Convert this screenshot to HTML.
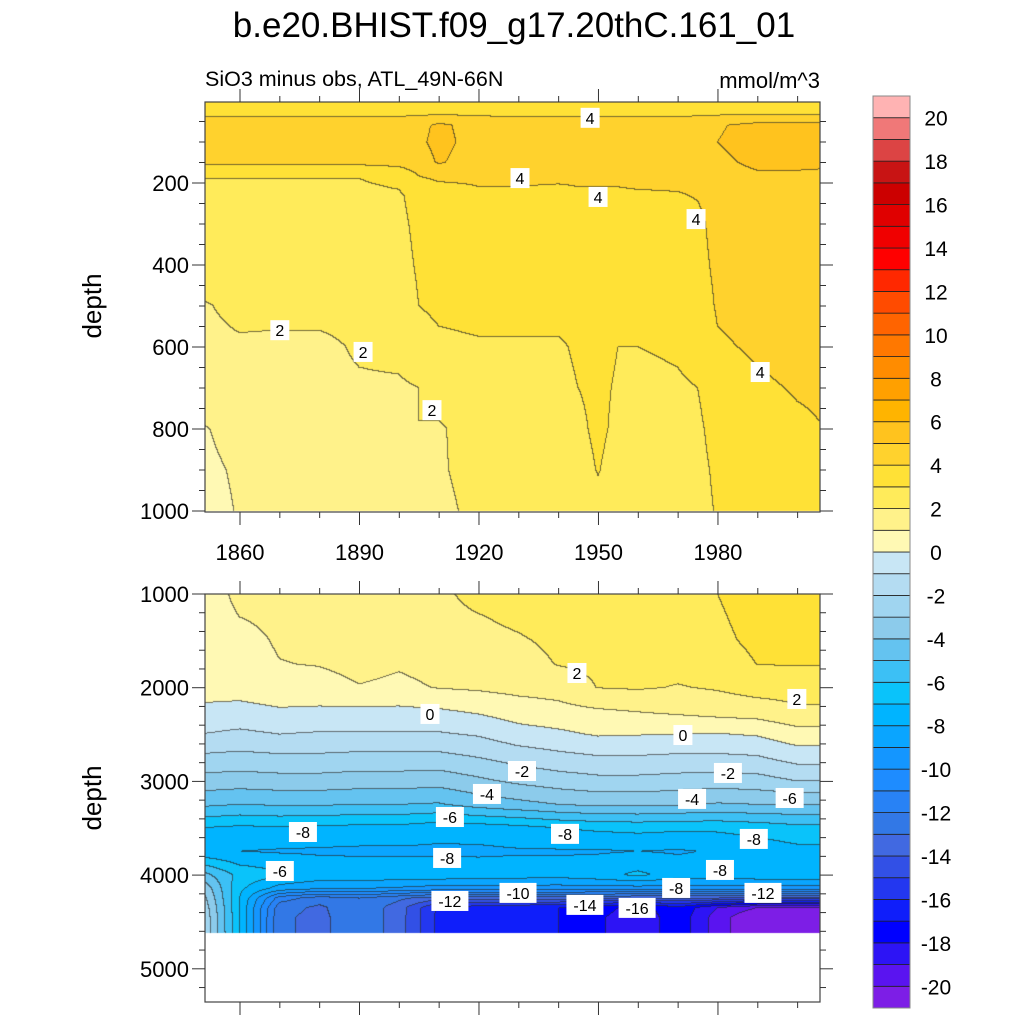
<!DOCTYPE html>
<html><head><meta charset="utf-8"><style>
html,body{margin:0;padding:0;background:#fff;}
#wrap{position:relative;width:1024px;height:1024px;overflow:hidden;font-family:"Liberation Sans",sans-serif;}
canvas{position:absolute;}
svg{position:absolute;left:0;top:0;}
</style></head><body>
<div id="wrap">
<canvas id="cTop" width="615" height="410" style="left:205px;top:102px"></canvas>
<canvas id="cBot" width="615" height="408" style="left:205px;top:594px"></canvas>
<svg id="ov" width="1024" height="1024"></svg>
</div>
<script>
// ---------- data ----------
const yearsTop = [1850,1860,1870,1880,1890,1900,1905,1910,1920,1930,1940,1945,1950,1955,1960,1970,1975,1980,1990,2000,2010];
const depthsTop = [0,30,60,100,150,190,230,300,400,500,600,700,800,900,1000];
const valuesTop = [
[3.6,3.6,3.6,3.6,3.6,3.6,3.6,3.6,3.6,3.6,3.6,3.6,3.6,3.6,3.6,3.6,3.6,3.6,3.6,3.6,3.6],
[3.8,3.8,3.8,3.8,3.8,3.8,3.8,3.8,3.8,3.8,3.8,3.8,3.8,3.8,3.8,3.8,3.8,3.8,3.8,3.8,3.8],
[4.4,4.4,4.4,4.4,4.4,4.5,4.7,5.2,4.6,4.5,4.5,4.5,4.5,4.5,4.5,4.5,4.6,4.9,5.3,5.4,5.3],
[4.4,4.4,4.4,4.4,4.4,4.5,4.8,5.3,4.6,4.5,4.5,4.5,4.5,4.5,4.5,4.5,4.7,5.0,5.4,5.5,5.4],
[4.2,4.2,4.2,4.2,4.2,4.3,4.5,5.1,4.5,4.4,4.4,4.4,4.4,4.4,4.4,4.4,4.6,4.8,5.2,5.2,5.1],
[3.0,3.0,3.0,3.0,3.0,3.2,3.9,4.1,4.1,4.1,4.1,4.1,4.1,4.1,4.2,4.2,4.3,4.6,4.8,4.8,4.8],
[2.8,2.8,2.8,2.8,2.8,2.9,3.3,3.6,3.9,3.9,3.8,3.9,3.9,3.9,3.9,3.95,4.05,4.4,4.6,4.6,4.6],
[2.7,2.7,2.7,2.7,2.7,2.8,3.2,3.5,3.6,3.6,3.6,3.6,3.6,3.6,3.6,3.7,3.8,4.3,4.5,4.5,4.5],
[2.5,2.6,2.6,2.6,2.6,2.7,3.1,3.4,3.5,3.5,3.5,3.5,3.5,3.5,3.5,3.6,3.7,4.2,4.4,4.4,4.4],
[1.9,2.2,2.3,2.3,2.3,2.5,3.0,3.2,3.3,3.3,3.3,3.3,3.4,3.3,3.3,3.4,3.5,4.1,4.3,4.3,4.3],
[1.8,1.9,1.8,1.8,2.1,2.2,2.5,2.8,2.9,2.9,2.9,3.1,3.3,3.0,3.0,3.1,3.3,3.9,4.1,4.2,4.2],
[1.6,1.7,1.8,1.8,1.9,1.9,2.0,2.4,2.7,2.8,2.8,3.0,3.2,2.9,2.8,2.9,3.0,3.6,3.9,4.05,4.1],
[0.9,1.3,1.7,1.7,1.7,1.8,2.0,1.9,2.4,2.5,2.6,2.8,3.2,2.8,2.6,2.7,2.8,3.4,3.7,3.9,4.05],
[0.8,1.1,1.6,1.6,1.6,1.7,1.8,1.9,2.3,2.4,2.5,2.6,3.05,2.6,2.5,2.5,2.7,3.2,3.6,3.8,4.0],
[0.7,1.05,1.5,1.5,1.5,1.6,1.7,1.8,2.2,2.3,2.4,2.5,2.7,2.5,2.4,2.4,2.6,3.1,3.5,3.7,3.9]
];
const yearsBot = [1850,1860,1870,1880,1890,1900,1910,1920,1930,1940,1950,1960,1970,1980,1990,2000,2010];
const depthsBot = [1000,1250,1500,1750,2000,2250,2500,2750,3000,3250,3500,3750,4000,4150,4250,4350,4450,4620];
// one profile per year column (values along depthsBot)
const col1850 = [0.5,0.5,0.5,0.5,0.4,-0.2,-1.0,-2.2,-3.4,-4.8,-7.0,-7.8,-4.5,-2.8,-2.2,-1.8,-1.6,-1.5];
const col1860 = [1.2,1.0,0.7,0.6,0.4,-0.3,-1.2,-2.3,-3.5,-5.0,-7.2,-8.0,-6.3,-6.8,-7.0,-7.0,-7.0,-7.0];
const col1870 = [1.3,1.2,1.1,0.97,0.6,-0.1,-1.0,-2.2,-3.4,-4.9,-7.1,-8.1,-6.8,-8.5,-11.5,-12.6,-12.8,-12.8];
const col1880 = [1.5,1.4,1.2,1.05,0.6,-0.15,-1.1,-2.2,-3.4,-4.9,-7.2,-8.15,-7.3,-9.0,-12.5,-13.2,-13.3,-13.3];
const col1890 = [1.6,1.5,1.4,1.3,0.95,-0.2,-1.1,-2.3,-3.5,-5.0,-7.3,-8.2,-7.3,-9.0,-12.0,-12.2,-12.2,-12.2];
const col1900 = [1.6,1.5,1.3,1.1,0.8,-0.2,-1.1,-2.3,-3.5,-5.0,-7.3,-8.2,-7.3,-9.2,-12.8,-13.5,-13.5,-13.5];
const col1910 = [1.8,1.7,1.5,1.3,1.05,-0.1,-1.1,-2.3,-3.6,-5.1,-7.6,-8.2,-7.3,-9.5,-13.5,-16.2,-16.3,-16.3];
const col1920 = [2.3,1.95,1.7,1.5,1.15,0.15,-0.9,-2.0,-3.2,-4.6,-7.5,-8.2,-7.4,-9.5,-13.5,-16.5,-16.5,-16.5];
const col1930 = [2.4,2.2,1.9,1.6,1.3,0.5,-0.4,-1.6,-2.8,-4.3,-7.3,-8.1,-7.5,-9.5,-13.5,-16.8,-16.8,-16.8];
const col1940 = [2.5,2.4,2.2,2.05,1.4,0.7,-0.2,-1.3,-2.5,-4.0,-7.0,-8.1,-7.6,-9.5,-13.5,-17.0,-17.0,-17.0];
const col1950 = [2.6,2.5,2.3,2.2,2.03,0.9,0.1,-1.1,-2.3,-3.8,-6.8,-8.1,-7.3,-9.5,-13.8,-17.5,-17.8,-17.8];
const col1960 = [2.7,2.6,2.5,2.3,2.1,1.05,0.05,-1.1,-2.3,-3.8,-6.7,-8.0,-6.8,-9.5,-14.0,-18.5,-18.8,-18.8];
const col1970 = [2.8,2.7,2.5,2.3,1.95,1.2,0.0,-1.2,-2.4,-3.9,-6.8,-8.1,-7.4,-9.5,-14.0,-17.2,-17.3,-17.3];
const col1980 = [3.0,2.9,2.8,2.5,2.1,1.4,-0.05,-1.2,-2.5,-4.1,-6.8,-7.9,-7.5,-9.5,-14.0,-19.0,-19.5,-19.5];
const col1990 = [3.4,3.3,3.2,3.02,2.4,1.5,0.1,-1.1,-2.4,-4.0,-6.6,-7.6,-7.3,-9.5,-14.5,-20.0,-21.0,-21.0];
const col2000 = [3.5,3.4,3.2,3.05,2.4,1.85,0.6,-0.6,-2.0,-4.0,-6.3,-7.3,-7.2,-9.5,-14.5,-20.0,-21.0,-21.0];
const col2010 = [3.5,3.4,3.2,3.05,2.4,1.85,0.6,-0.6,-2.0,-4.0,-6.3,-7.3,-7.2,-9.5,-14.5,-20.0,-21.0,-21.0];
const colsBot = [col1850,col1860,col1870,col1880,col1890,col1900,col1910,col1920,col1930,col1940,col1950,col1960,col1970,col1980,col1990,col2000,col2010];

const levelColors = ["#7d1ee6","#5a14f0","#2d14f5","#0000ff","#0f1efa","#2337f0","#3250e6","#4169e1","#3278e6","#2882f5","#1e8cff","#1496ff","#0aa5ff","#00b4ff","#0ac3fa","#3cc0f5","#64c3f0","#8ccbeb","#a0d5f0","#b4dcf2","#c8e6f5","#fff9b4","#fff28a","#ffeb5a","#ffe136","#ffd22d","#ffc31e","#ffb400","#ffa000","#ff8c00","#ff7800","#ff6400","#ff4b00","#ff2800","#ff0000","#f00000","#e00000","#cc0000","#c81414","#dc4444","#f07878","#ffb3b3"];
const colorbarLabels = [20,18,16,14,12,10,8,6,4,2,0,-2,-4,-6,-8,-10,-12,-14,-16,-18,-20];
const xTickYears = [1860,1890,1920,1950,1980];
const topDepthTicks = [200,400,600,800,1000];
const botDepthTicks = [1000,2000,3000,4000,5000];
const labelsTopText = ["4","4","4","4","2","2","2","4"];
const labelsTopYear = [1947.9,1930.3,1949.9,1974.5,1870,1890.9,1908.2,1990.6];
const labelsTopDepth = [41,188,234,288,559,612,754,661];
const labelsBotText = ["2","2","0","0","-2","-2","-4","-4","-6","-6","-8","-8","-8","-8","-6","-8","-8","-12","-10","-14","-16","-12"];
const labelsBotYear = [1944.6,1999.8,1907.7,1971.2,1930.8,1982.5,1922,1973.5,1912.7,1998,1875.8,1941.6,1989,1912,1870,1980.5,1969.5,1912.7,1929.8,1946.6,1959.7,1991.3];
const labelsBotDepth = [1843,2120,2280,2505,2889,2910,3134,3187,3380,3177,3540,3560,3614,3817,3956,3945,4137,4276,4190,4318,4350,4190];

// ---------- axes ----------
const xOf = yr => 240 + (yr - 1860) * 3.983;
const yTop = d => 101 + d * 0.41;
const yBot = d => 594 + (d - 1000) * 0.0937;
const yearAtX = x => 1860 + (x - 240) / 3.983;
const depthTopAtY = y => (y - 101) / 0.41;
const depthBotAtY = y => 1000 + (y - 594) / 0.0937;
const cbTop = 96, cbBox = 912 / 42;
const cbY = lev => cbTop + (21 - lev) * cbBox;

function seg(arr, v){
  if (v <= arr[0]) return [0, 0];
  const n = arr.length;
  if (v >= arr[n-1]) return [n-2, 1];
  let i = 0; while (arr[i+1] < v) i++;
  return [i, (v - arr[i]) / (arr[i+1] - arr[i])];
}
function valTop(yr, d){
  const [i, fx] = seg(yearsTop, yr), [j, fy] = seg(depthsTop, d);
  const a = valuesTop[j][i], b = valuesTop[j][i+1], c = valuesTop[j+1][i], e = valuesTop[j+1][i+1];
  return (a*(1-fx)+b*fx)*(1-fy) + (c*(1-fx)+e*fx)*fy;
}
function valBot(yr, d){
  const [i, fx] = seg(yearsBot, yr), [j, fy] = seg(depthsBot, d);
  const a = colsBot[i][j], b = colsBot[i+1][j], c = colsBot[i][j+1], e = colsBot[i+1][j+1];
  return (a*(1-fx)+b*fx)*(1-fy) + (c*(1-fx)+e*fx)*fy;
}
const rgb = h => [parseInt(h.substr(1,2),16), parseInt(h.substr(3,2),16), parseInt(h.substr(5,2),16)];
const pal = levelColors.map(rgb);

function drawField(canvasId, left, top, w, h, valFn, depthFn, maxDepth){
  const cv = document.getElementById(canvasId), ctx = cv.getContext('2d');
  const img = ctx.createImageData(w, h);
  const idx = new Int16Array(w*h);
  for (let j = 0; j < h; j++){
    const d = depthFn(top + j + 0.5);
    for (let i = 0; i < w; i++){
      if (d > maxDepth){ idx[j*w+i] = -1; continue; }
      const v = valFn(yearAtX(left + i + 0.5), d);
      idx[j*w+i] = Math.max(0, Math.min(41, Math.floor(v) + 21));
    }
  }
  for (let j = 0; j < h; j++) for (let i = 0; i < w; i++){
    const k = j*w+i, p = k*4, li = idx[k];
    if (li < 0){ img.data[p]=255;img.data[p+1]=255;img.data[p+2]=255;img.data[p+3]=255; continue; }
    const c = pal[li];
    const edge = (i+1 < w && idx[k+1] >= 0 && idx[k+1] !== li) || (j+1 < h && idx[k+w] >= 0 && idx[k+w] !== li);
    const f = edge ? 0.35 : 1;
    img.data[p] = c[0]*f + 40*(1-f); img.data[p+1] = c[1]*f + 40*(1-f); img.data[p+2] = c[2]*f + 40*(1-f); img.data[p+3] = 255;
  }
  ctx.putImageData(img, 0, 0);
}
drawField('cTop', 205, 102, 615, 410, valTop, depthTopAtY, 1000);
drawField('cBot', 205, 594, 615, 408, valBot, depthBotAtY, 4620);

// ---------- svg overlay ----------
const NS = 'http://www.w3.org/2000/svg', svg = document.getElementById('ov');
function el(tag, attrs, parent){ const e = document.createElementNS(NS, tag); for (const k in attrs) e.setAttribute(k, attrs[k]); (parent||svg).appendChild(e); return e; }
function txt(s, attrs, parent){ const e = el('text', attrs, parent); e.textContent = s; return e; }

let t = txt('b.e20.BHIST.f09_g17.20thC.161_01', {x:514, y:37, 'font-size':35, 'text-anchor':'middle', fill:'#000'});
 
t = txt('SiO3 minus obs, ATL_49N-66N', {x:205, y:86, 'font-size':21.5, fill:'#000'});
 
t = txt('mmol/m^3', {x:820, y:88, 'font-size':22, 'text-anchor':'end', fill:'#000'});
 
t = txt('depth', {x:0, y:0, 'font-size':26, 'text-anchor':'middle', transform:'translate(101,306) rotate(-90)'});
 
t = txt('depth', {x:0, y:0, 'font-size':26, 'text-anchor':'middle', transform:'translate(101,798) rotate(-90)'});
 

function panelAxes(name, y0, y1, yFn, majorTicks, minorStep, minorMax, showXLabels){
  const g = el('g', {});
   
  el('rect', {x:205, y:y0, width:615, height:y1-y0, fill:'none', stroke:'#444', 'stroke-width':1.2}, g);
  for (let yr = 1860; yr <= 2000; yr += 10){
    const x = xOf(yr), major = xTickYears.includes(yr), L = major ? 13 : 6;
    el('line', {x1:x, x2:x, y1:y1, y2:y1+L, stroke:'#333', 'stroke-width':1}, g);
    el('line', {x1:x, x2:x, y1:y0, y2:y0-L, stroke:'#333', 'stroke-width':1}, g);
  }
  if (showXLabels) xTickYears.forEach(yr => {
    const tl = txt(String(yr), {x:xOf(yr), y:560, 'font-size':22, 'text-anchor':'middle'}, g);
     
  });
  for (let d = minorStep; d <= minorMax; d += minorStep){
    const y = yFn(d); if (y < y0 - 0.5 || y > y1 + 0.5) continue;
    const major = majorTicks.includes(d), L = major ? 13 : 6;
    el('line', {x1:205, x2:205-L, y1:y, y2:y, stroke:'#333', 'stroke-width':1}, g);
    el('line', {x1:820, x2:820+L, y1:y, y2:y, stroke:'#333', 'stroke-width':1}, g);
  }
  majorTicks.forEach(d => {
    const tl = txt(String(d), {x:189, y:yFn(d)+8, 'font-size':22, 'text-anchor':'end'}, g);
     
  });
}
panelAxes('upper-panel', 102, 512, yTop, topDepthTicks, 50, 1000, true);
panelAxes('lower-panel', 594, 1002, yBot, botDepthTicks, 200, 5400, false);

function contourLabels(texts, yrs, deps, yFn, name){
  texts.forEach((s, i) => {
    const x = xOf(yrs[i]), y = yFn(deps[i]);
    const w = 10 + s.length * 9;
    const r = el('rect', {x:x - w/2, y:y - 10, width:w, height:20, fill:'#fff'});
     
    const tl = txt(s, {x:x, y:y + 6, 'font-size':16, 'text-anchor':'middle'});
     
  });
}
contourLabels(labelsTopText, labelsTopYear, labelsTopDepth, yTop, 'upper-contour');
contourLabels(labelsBotText, labelsBotYear, labelsBotDepth, yBot, 'lower-contour');

const cb = el('g', {});
 
levelColors.forEach((c, i) => {
  const lev = i - 21;
  const y0 = i === 41 ? cbTop : cbY(lev + 1);
  const y1 = i === 0 ? cbTop + 912 : cbY(lev);
  const r = el('rect', {x:873, y:y0, width:37, height:y1-y0, fill:c, stroke:'#222', 'stroke-width':0.8}, cb);
   
});
el('rect', {x:873, y:cbTop, width:37, height:912, fill:'none', stroke:'#888', 'stroke-width':1}, cb);
colorbarLabels.forEach(l => {
  const tl = txt(String(l), {x:936, y:cbY(l)+8, 'font-size':21, 'text-anchor':'middle'}, cb);
   
});
</script>
</body></html>
